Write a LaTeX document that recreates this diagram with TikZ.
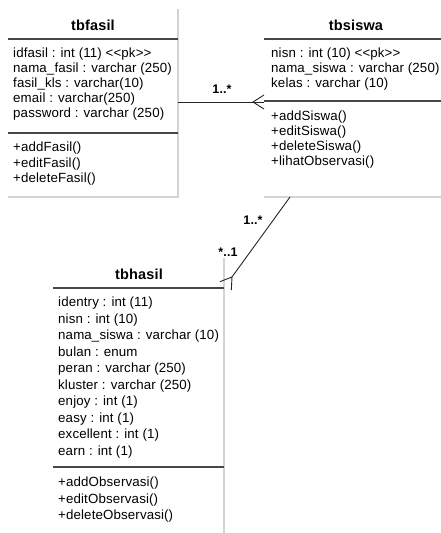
\documentclass[tikz,border=0pt]{standalone}
\usepackage{fontspec}
\newfontfamily\umlfont[LetterSpace=1]{Liberation Sans}
\usetikzlibrary{calc}
\tikzset{
  attr/.style={anchor=west, inner sep=0pt, text height=10pt, text depth=3pt,
    font=\umlfont\fontsize{13.3}{15}\selectfont},
  ttl/.style={anchor=center, inner sep=0pt, font=\umlfont\bfseries\fontsize{14.5}{16}\selectfont},
  mult/.style={anchor=center, inner sep=0pt, font=\umlfont\bfseries\fontsize{12.5}{14}\selectfont},
  rule/.style={draw=black!72, line width=1.1pt},
  frame/.style={draw=black!17, line width=1.6pt},
  assoc/.style={draw=black!85, line width=0.9pt},
}
\begin{document}
\begin{tikzpicture}[x=1pt,y=-1pt]
\useasboundingbox[fill=white] (0,0) rectangle (441,533);

% ---- class tbfasil
\draw[frame] (178,9) -- (178,197) -- (8,197);
\draw[rule] (8,39) -- (178,39);
\draw[rule] (8,133) -- (178,133);
\node[ttl] (fasilT) at (93,25) {tbfasil};
\foreach [count=\i] \t in {idfasil : int (11) <<pk>>, nama\_fasil : varchar (250),
    fasil\_kls : varchar(10), email : varchar(250), password : varchar (250)}
  \node[attr] (fasilA\i) at (13,{53.5+15*(\i-1)}) {\t};
\foreach [count=\i] \t in {+addFasil(), +editFasil(), +deleteFasil()}
  \node[attr] (fasilM\i) at (13,{148+15.5*(\i-1)}) {\t};

% ---- class tbsiswa
\draw[frame] (264,197) -- (441,197);
\draw[rule] (264,39) -- (441,39);
\draw[rule] (264,101) -- (441,101);
\node[ttl] (siswaT) at (356,25) {tbsiswa};
\foreach [count=\i] \t in {nisn : int (10) <<pk>>, nama\_siswa : varchar (250),
    kelas : varchar (10)}
  \node[attr] (siswaA\i) at (271,{53.5+15*(\i-1)}) {\t};
\foreach [count=\i] \t in {+addSiswa(), +editSiswa(), +deleteSiswa(), +lihatObservasi()}
  \node[attr] (siswaM\i) at (271,{117+15*(\i-1)}) {\t};

% ---- class tbhasil
\draw[frame] (224,258) -- (224,533);
\draw[rule] (53,288) -- (224,288);
\draw[rule] (53,467) -- (224,467);
\node[ttl] (hasilT) at (139,274) {tbhasil};
\foreach [count=\i] \t in {identry : int (11), nisn : int (10), nama\_siswa : varchar (10),
    bulan : enum, peran : varchar (250), kluster : varchar (250), enjoy : int (1),
    easy : int (1), excellent : int (1), earn : int (1)}
  \node[attr] (hasilA\i) at (58,{303+16.5*(\i-1)}) {\t};
\foreach [count=\i] \t in {+addObservasi(), +editObservasi(), +deleteObservasi()}
  \node[attr] (hasilM\i) at (58,{483+16.5*(\i-1)}) {\t};

% ---- association tbfasil -- tbsiswa
\coordinate (fasilR) at (178,102);
\coordinate (siswaL) at (264,102);
\coordinate (tipA) at (253,102);
\draw[assoc] (fasilR) -- (siswaL);
\draw[assoc] ([shift={(11,-7)}]tipA) -- (tipA) -- ([shift={(11,7)}]tipA);
\node[mult] (multA) at (222,89) {1..*};

% ---- association tbsiswa -- tbhasil
\coordinate (siswaB) at (290,197);
\coordinate (tipB) at (232,277);
\draw[assoc] (siswaB) -- (tipB);
\draw[assoc] ([shift={(-12.1,4.7)}]tipB) -- (tipB) -- ([shift={(-0.7,13)}]tipB);
\node[mult] (multB) at (253,220) {1..*};
\node[mult] (multC) at (228,252) {*..1};
\end{tikzpicture}
\end{document}
